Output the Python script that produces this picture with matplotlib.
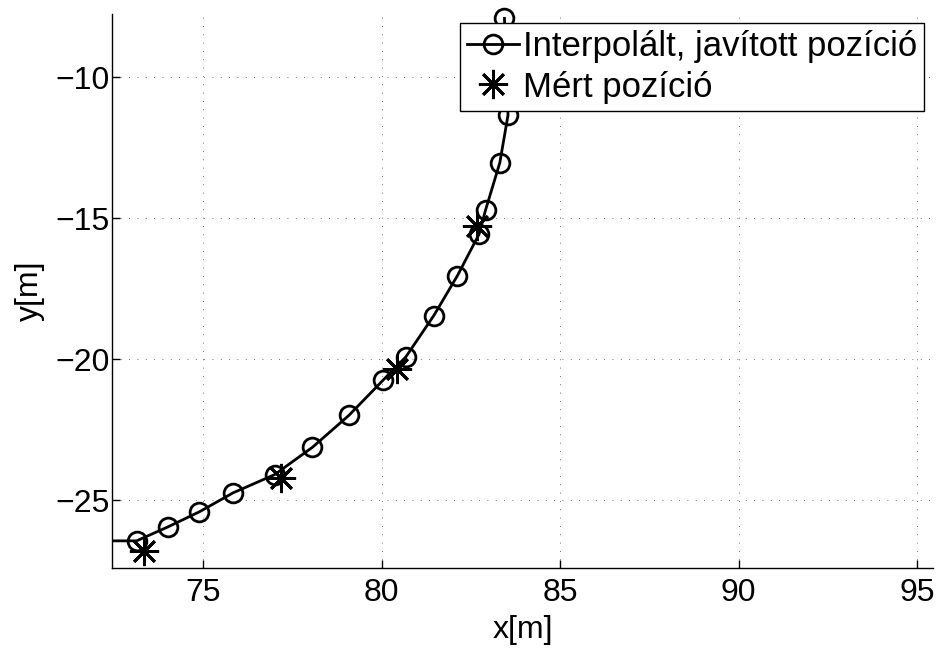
import numpy as np
import matplotlib
matplotlib.use("Agg")
import matplotlib.pyplot as plt
from matplotlib.transforms import Bbox, TransformedBbox

plt.rcParams['font.family'] = ['Liberation Sans', 'DejaVu Sans']

# interpolated, corrected track
x_interp = [72.0, 73.13, 74.00, 74.89, 75.83, 77.00, 78.06, 79.08, 80.04, 80.68,
            81.46, 82.12, 82.73, 82.91, 83.31, 83.54, 83.44]
y_interp = [-26.44, -26.44, -25.95, -25.41, -24.74, -24.09, -23.12, -21.99, -20.74, -19.91,
            -18.45, -17.04, -15.56, -14.71, -13.03, -11.34, -7.91]

# measured positions
x_meas = [73.33, 77.19, 80.44, 82.66]
y_meas = [-26.80, -24.22, -20.35, -15.28]

fig = plt.figure(figsize=(9.43, 6.5), dpi=100)
ax = fig.add_axes([0.1191, 0.1254, 0.8703, 0.8531])

line, = ax.plot(x_interp, y_interp, '-', color='black', linewidth=2.0,
                marker='o', markersize=13.5, markerfacecolor='none',
                markeredgewidth=2.0, label='Interpolált, javított pozíció')
# let the markers spill over the top edge, still clip on the left
line.set_clip_box(TransformedBbox(Bbox([[0, 0], [1, 1.05]]), ax.transAxes))

ax.plot(x_meas, y_meas, linestyle='none', color='black',
        marker=(8, 2, 0), markersize=21, markeredgewidth=2.0,
        label='Mért pozíció')

ax.set_xlim(72.45, 95.45)
ax.set_ylim(-27.42, -7.755)
ax.set_xticks([75, 80, 85, 90, 95])
ax.set_yticks([-25, -20, -15, -10])

ax.grid(True, color='#444444', linestyle=(0, (1, 9)), linewidth=0.6)
ax.spines['top'].set_visible(False)
ax.spines['right'].set_visible(False)
for s in ('left', 'bottom'):
    ax.spines[s].set_linewidth(1.0)

ax.tick_params(direction='in', length=6, width=1.0, labelsize=23)
ax.tick_params(axis='x', pad=7)
ax.tick_params(axis='y', pad=2)
ax.set_xlabel('x[m]', fontsize=23, labelpad=5)
ax.set_ylabel('y[m]', fontsize=23)
ax.yaxis.set_label_coords(-0.082, 0.5)

leg = ax.legend(loc='upper right', bbox_to_anchor=(0.9799, 0.9646),
                bbox_transform=fig.transFigure, borderaxespad=0,
                fontsize=25, fancybox=False, framealpha=1,
                edgecolor='black', handlelength=1.5, handletextpad=0.12,
                labelspacing=0.22, borderpad=0.2)
leg.get_frame().set_linewidth(1.0)

fig.savefig('out.png', dpi=100)
